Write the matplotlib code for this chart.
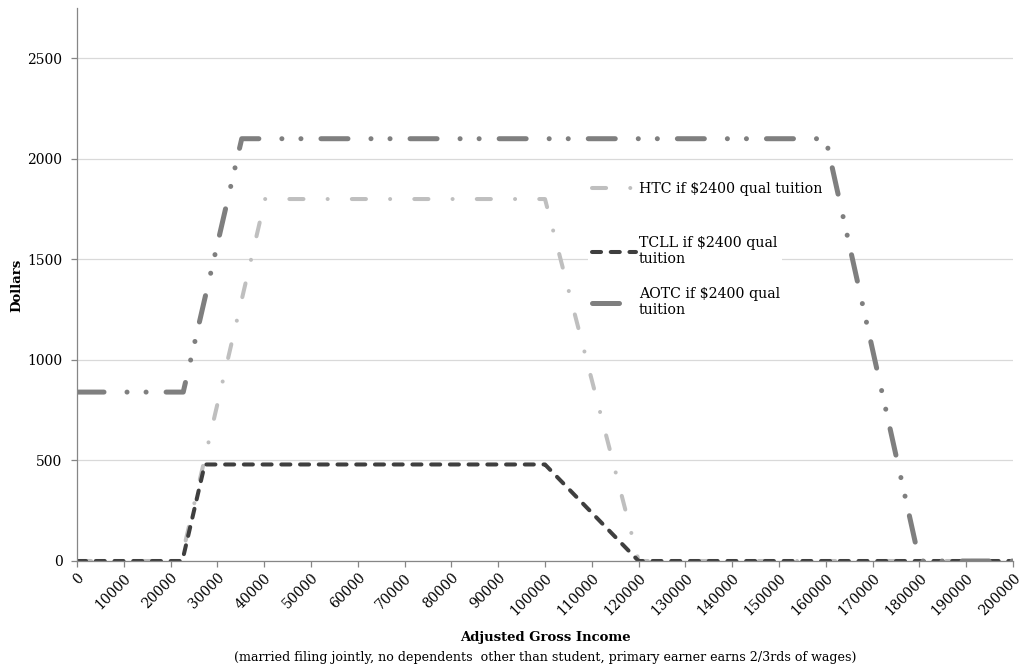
import numpy as np
import matplotlib.pyplot as plt

plt.rcParams['font.family'] = ['DejaVu Serif']

# breakpoints (income, dollars)
htc_income = [0, 22200, 40200, 100000, 120000, 200000]
htc_value = [0, 0, 1800, 1800, 0, 0]

tcll_income = [0, 22500, 27300, 100000, 120000, 200000]
tcll_value = [0, 0, 480, 480, 0, 0]

aotc_income = [0, 22700, 35200, 160000, 180000, 200000]
aotc_value = [840, 840, 2100, 2100, 0, 0]

x_ticks = np.arange(0, 200001, 10000)
y_ticks = np.arange(0, 2501, 500)

fig = plt.figure(figsize=(10.21, 6.67), dpi=100)
fig.subplots_adjust(left=77/1021, right=1013/1021, bottom=1-561/667, top=1-8/667)
ax = fig.add_subplot(111)

axis_col = "#868686"

l_htc, = ax.plot(htc_income, htc_value, color="#bfbfbf", lw=2.9,
                 dashes=(3.5, 6, 0.01, 6), dash_capstyle='round',
                 solid_joinstyle='round', label="HTC if $2400 qual tuition")
l_tcll, = ax.plot(tcll_income, tcll_value, color="#3f3f3f", lw=2.9,
                  dashes=(2.25, 2.4), dash_capstyle='round',
                  label="TCLL if $2400 qual\ntuition")
l_aotc, = ax.plot(aotc_income, aotc_value, color="#7f7f7f", lw=3.6,
                  dashes=(5.4, 4.6, 0.01, 3.8, 0.01, 4.0), dash_capstyle='round',
                  label="AOTC if $2400 qual\ntuition")

ax.set_xlim(0, 200000)
ax.set_ylim(0, 2750)
ax.set_xticks(x_ticks)
ax.set_xticklabels([str(v) for v in x_ticks], rotation=45, ha='right',
                   rotation_mode='anchor', fontsize=10)
ax.set_yticks(y_ticks)
ax.set_yticklabels([str(v) for v in y_ticks], fontsize=10)

ax.grid(axis='y', color="#d9d9d9", lw=0.9)
ax.set_axisbelow(True)
for s in ['top', 'right']:
    ax.spines[s].set_visible(False)
for s in ['left', 'bottom']:
    ax.spines[s].set_color(axis_col)
    ax.spines[s].set_linewidth(0.9)
ax.tick_params(axis='both', color=axis_col, length=4, width=0.9, pad=3)
ax.tick_params(axis='y', pad=6.5)

# legend entries placed one by one (Excel spacing is uneven)
leg_pos = [(588, 189), (588, 251), (588, 302)]
for line, (px, py) in zip([l_htc, l_tcll, l_aotc], leg_pos):
    leg = ax.legend([line], [line.get_label()], loc='center left',
                    bbox_to_anchor=(px/1021, 1-py/667), bbox_transform=fig.transFigure,
                    fontsize=10.2, handlelength=3.1, handletextpad=0.2,
                    borderpad=0.3, borderaxespad=0, frameon=True, fancybox=False,
                    facecolor='white', edgecolor='none', framealpha=1)
    ax.add_artist(leg)

fig.text(545/1021, 1-638/667, "Adjusted Gross Income", ha='center', va='center',
         fontsize=9.5, fontweight='bold')
fig.text(545/1021, 1-657/667,
         "(married filing jointly, no dependents  other than student, primary earner earns 2/3rds of wages)",
         ha='center', va='center', fontsize=9.1)
fig.text(17/1021, 1-285/667, "Dollars", rotation=90, ha='center', va='center',
         fontsize=9.5, fontweight='bold')

fig.savefig("out.png", dpi=100)
